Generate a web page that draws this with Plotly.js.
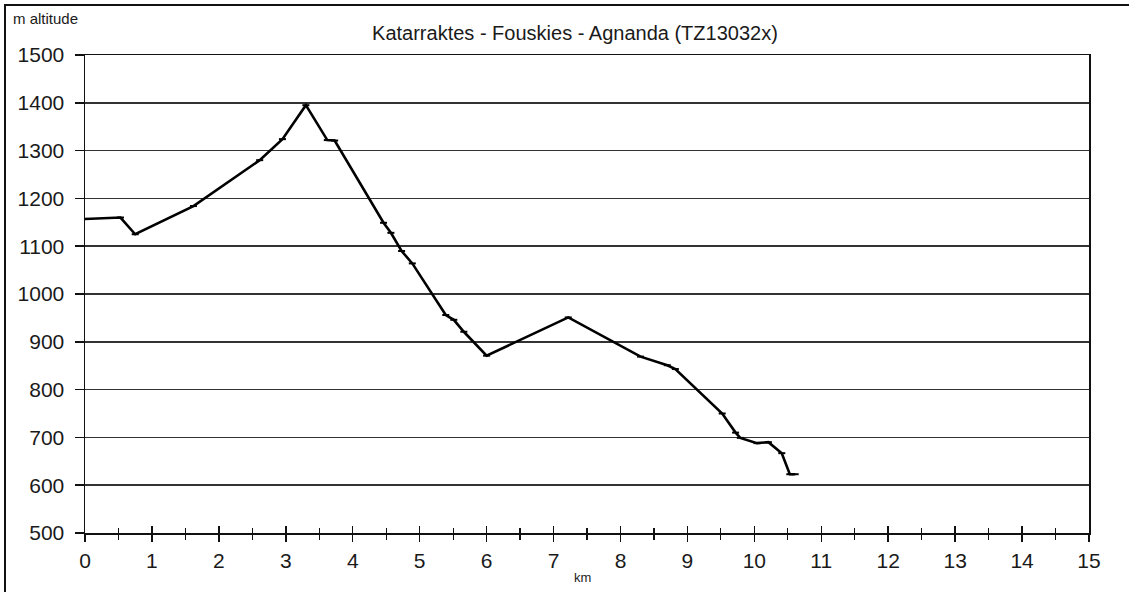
<!DOCTYPE html>
<html>
<head>
<meta charset="utf-8">
<script src="https://cdn.plot.ly/plotly-3.0.1.min.js"></script>
<style>
  html, body { margin: 0; padding: 0; background: #fff; overflow: hidden; }
  #frame { position: absolute; left: 4px; top: 4px; width: 1140px; height: 600px; border: 2px solid #111; box-sizing: border-box; pointer-events: none; }
  #chart { position: absolute; left: 0; top: 0; width: 1129px; height: 592px; }
</style>
</head>
<body>
<div id="chart"></div>
<div id="frame"></div>
<script>
const distanceKm = [0, 0.53, 0.75, 1.62, 2.61, 2.95, 3.30, 3.62, 3.73, 4.46, 4.57, 4.73, 4.89, 5.39, 5.51, 5.66, 6.00, 7.22, 8.30, 8.70, 8.82, 9.52, 9.72, 9.79, 10.04, 10.21, 10.41, 10.53, 10.61];
const altitudeM = [1157, 1160, 1125, 1184, 1280, 1324, 1395, 1322, 1321, 1149, 1128, 1090, 1064, 956, 946, 921, 871, 951, 869, 851, 843, 750, 710, 699, 688, 690, 667, 623, 623];
const chartTitle = "Katarraktes - Fouskies - Agnanda (TZ13032x)";
const xTitle = "km";
const yTitle = "m altitude";

const trace = {
  x: distanceKm,
  y: altitudeM,
  type: 'scatter',
  mode: 'lines+markers',
  line: { color: '#000', width: 2.6 },
  marker: { symbol: 'line-ew', size: 5, line: { color: '#000', width: 2 } },
  hoverinfo: 'x+y',
  showlegend: false
};

const fam = 'Liberation Sans, Arial, sans-serif';
const ink = '#1a1a1a';

const layout = {
  width: 1129, height: 592,
  margin: { l: 85, r: 40, t: 55, b: 59 },
  paper_bgcolor: '#fff', plot_bgcolor: '#fff',
  font: { family: fam, color: ink },
  showlegend: false,
  title: { text: chartTitle, x: 0.488, xref: 'paper', xanchor: 'center', y: 0.944, yanchor: 'middle', font: { family: fam, size: 20, color: ink } },
  xaxis: {
    range: [0, 15], dtick: 1, tick0: 0,
    showgrid: false, zeroline: false,
    showline: true, linecolor: '#111', linewidth: 1.5, mirror: true,
    ticks: 'outside', ticklen: 7, tickwidth: 1.5, tickcolor: '#111',
    ticklabelstandoff: 1,
    minor: { dtick: 0.5, ticks: 'outside', ticklen: 5, tickwidth: 1.2, tickcolor: '#111' },
    tickfont: { family: fam, size: 21, color: ink }
  },
  xaxis2: {
    overlaying: 'x', anchor: 'y', side: 'bottom',
    range: [0, 15], dtick: 1, tick0: 0,
    showgrid: false, zeroline: false, showline: false, showticklabels: false,
    ticks: 'inside', ticklen: 7, tickwidth: 1.5, tickcolor: '#111',
    minor: { dtick: 0.5, ticks: 'inside', ticklen: 5, tickwidth: 1.2, tickcolor: '#111' }
  },
  yaxis: {
    range: [500, 1500], dtick: 100,
    showgrid: true, gridcolor: '#333', gridwidth: 1.5,
    zeroline: false,
    showline: true, linecolor: '#111', linewidth: 1.5, mirror: true,
    ticks: 'outside', ticklen: 9, tickwidth: 1.5, tickcolor: '#111',
    ticklabelstandoff: 6,
    tickfont: { family: fam, size: 21, color: ink }
  },
  annotations: [
    { text: yTitle, xref: 'paper', yref: 'paper', x: -0.0735, y: 1.077, xanchor: 'left', yanchor: 'middle', showarrow: false, font: { family: fam, size: 15, color: ink } },
    { text: xTitle, xref: 'paper', yref: 'paper', x: 0.4955, y: -0.094, xanchor: 'center', yanchor: 'middle', showarrow: false, font: { family: fam, size: 13, color: ink } }
  ]
};

const ghost = { x: [0], y: [500], xaxis: 'x2', yaxis: 'y', mode: 'markers', marker: { opacity: 0 }, hoverinfo: 'skip', showlegend: false };

Plotly.newPlot('chart', [trace, ghost], layout, { displayModeBar: false, staticPlot: true });
</script>
</body>
</html>
